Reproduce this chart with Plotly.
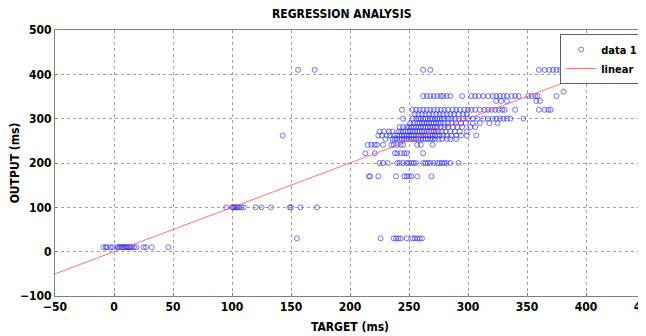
import plotly.graph_objects as go

# ---- data ----
out_levels = [10, 30, 100, 170, 200, 222, 241, 254, 262, 271, 281, 290,
              300, 310, 320, 340, 351, 361, 410]

t_at_10 = [-9, -7, -6, -3, -1, 3, 4, 5, 6, 7, 8, 9, 10, 11, 12, 13, 14, 15,
           17, 19, 25, 27, 32, 46]
t_at_30 = [155, 226, 237, 239, 241, 243, 248, 253, 255, 257, 259, 261]
t_at_100 = [95, 100, 101, 102, 103, 104, 105, 106, 108, 110, 120, 125, 133,
            149, 150, 158, 172]
t_at_170 = [216, 217, 224, 239, 246, 248, 250, 252, 257, 269]
t_at_200 = [225, 228, 232, 240, 242, 245, 248, 250, 252, 254, 256, 262, 264,
            266, 268, 271, 274, 276, 278, 280, 282, 285, 292]
t_at_222 = [213, 221, 238, 240, 243, 246, 248, 262]
t_at_241 = [215, 218, 221, 223, 228, 235, 237, 240, 243, 245, 257, 260, 270]
t_at_254 = [230, 236, 238, 240, 242, 244, 246, 248, 250, 252, 254, 256, 258,
            260, 262, 264, 266, 268, 270, 272, 275, 278, 282, 285, 290]
t_at_262 = [143, 224, 227, 231, 234, 237, 240, 242, 244, 246, 248, 250, 252,
            254, 256, 258, 260, 262, 264, 266, 268, 270, 272, 274, 276, 279,
            282, 286, 290, 294, 299, 307]
t_at_271 = [225, 229, 233, 236, 241, 243, 245, 247, 249, 251, 253, 255, 257,
            259, 261, 263, 265, 267, 269, 271, 273, 275, 278, 281, 285, 289,
            293, 299]
t_at_281 = [242, 245, 248, 250, 252, 254, 256, 258, 260, 262, 264, 266, 268,
            270, 272, 274, 277, 280, 283, 287, 291, 295, 302, 306]
t_at_290 = [251, 254, 257, 259, 261, 263, 265, 267, 269, 271, 273, 275, 277,
            280, 283, 286, 290, 294, 298, 304, 310, 318, 325]
t_at_300 = [245, 253, 256, 258, 260, 262, 264, 266, 268, 270, 272, 274, 276,
            278, 280, 283, 286, 289, 292, 296, 300, 304, 308, 313, 317, 321,
            324, 327, 330, 333, 336, 347]
t_at_310 = [255, 258, 261, 264, 267, 270, 273, 276, 279, 282, 285, 288, 292,
            296, 299]
t_at_320 = [244, 253, 256, 259, 262, 265, 268, 271, 274, 277, 280, 283, 287,
            290, 293, 297, 300, 303, 306, 310, 314, 317, 320, 323, 326, 329,
            331, 340, 360, 365, 368, 370]
t_at_340 = [324, 328, 333, 358, 361]
t_at_351 = [262, 265, 268, 271, 274, 277, 279, 282, 285, 295, 303, 306, 309,
            313, 317, 321, 324, 327, 330, 333, 337, 340, 343, 351, 354, 357,
            359, 375]
t_at_361 = [381]
t_at_410 = [156, 170, 262, 268, 360, 365, 369, 372, 375, 378, 388, 390, 410]

target_rows = [t_at_10, t_at_30, t_at_100, t_at_170, t_at_200, t_at_222,
               t_at_241, t_at_254, t_at_262, t_at_271, t_at_281, t_at_290,
               t_at_300, t_at_310, t_at_320, t_at_340, t_at_351, t_at_361,
               t_at_410]

line_x = [-50, 450]
line_y = [-50, 450]

x_ticks = [-50, 0, 50, 100, 150, 200, 250, 300, 350, 400, 450]
y_ticks = [-100, 0, 100, 200, 300, 400, 500]

# ---- build ----
target = []
output = []
for lvl, row in zip(out_levels, target_rows):
    target.extend(row)
    output.extend([lvl] * len(row))

FONT = "Liberation Sans Narrow, DejaVu Sans Condensed, Roboto Condensed, Liberation Sans, Arial, sans-serif"

fig = go.Figure()
fig.add_trace(go.Scatter(
    x=target, y=output, mode="markers", name="data 1",
    marker=dict(symbol="circle-open", size=5, color="rgba(40,40,255,0.65)",
                line=dict(width=1)),
))
fig.add_trace(go.Scatter(
    x=line_x, y=line_y, mode="lines", name="linear",
    line=dict(color="rgba(255,90,90,0.85)", width=1),
))

axis_common = dict(
    showgrid=True, gridcolor="#a0a0a0", griddash="dot", gridwidth=1,
    showline=True, linecolor="#808080", linewidth=1, mirror=True,
    ticks="inside", ticklen=3, tickcolor="#808080",
    zeroline=False, automargin=False, ticklabeloverflow="allow",
    tickfont=dict(family=FONT, size=12, color="black", weight="bold"),
)

# page body has an 8px default margin: margins below compensate for it
fig.update_layout(
    width=646, height=336,
    margin=dict(l=47, r=9, t=22, b=48, autoexpand=False),
    paper_bgcolor="white", plot_bgcolor="white",
    title=dict(text="<b>REGRESSION ANALYSIS</b>", x=0.486, xref="paper",
               xanchor="center", y=0.982, yanchor="middle",
               font=dict(family=FONT, size=12, color="black")),
    xaxis=dict(range=[-50, 450], tickvals=x_ticks,
               title=dict(text="<b>TARGET (ms)</b>", standoff=9,
                          font=dict(family=FONT, size=12, color="black")),
               **axis_common),
    yaxis=dict(range=[-100, 500], tickvals=y_ticks,
               title=dict(text="<b>OUTPUT (ms)</b>", standoff=0,
                          font=dict(family=FONT, size=12, color="black")),
               **axis_common),
    legend=dict(x=0.997, y=0.985, xanchor="right", yanchor="top",
                bgcolor="white", bordercolor="#606060", borderwidth=1,
                font=dict(family=FONT, size=11, color="black", weight="bold"),
                itemwidth=30, tracegroupgap=0),
    showlegend=True,
)

fig.write_html("out.html")
